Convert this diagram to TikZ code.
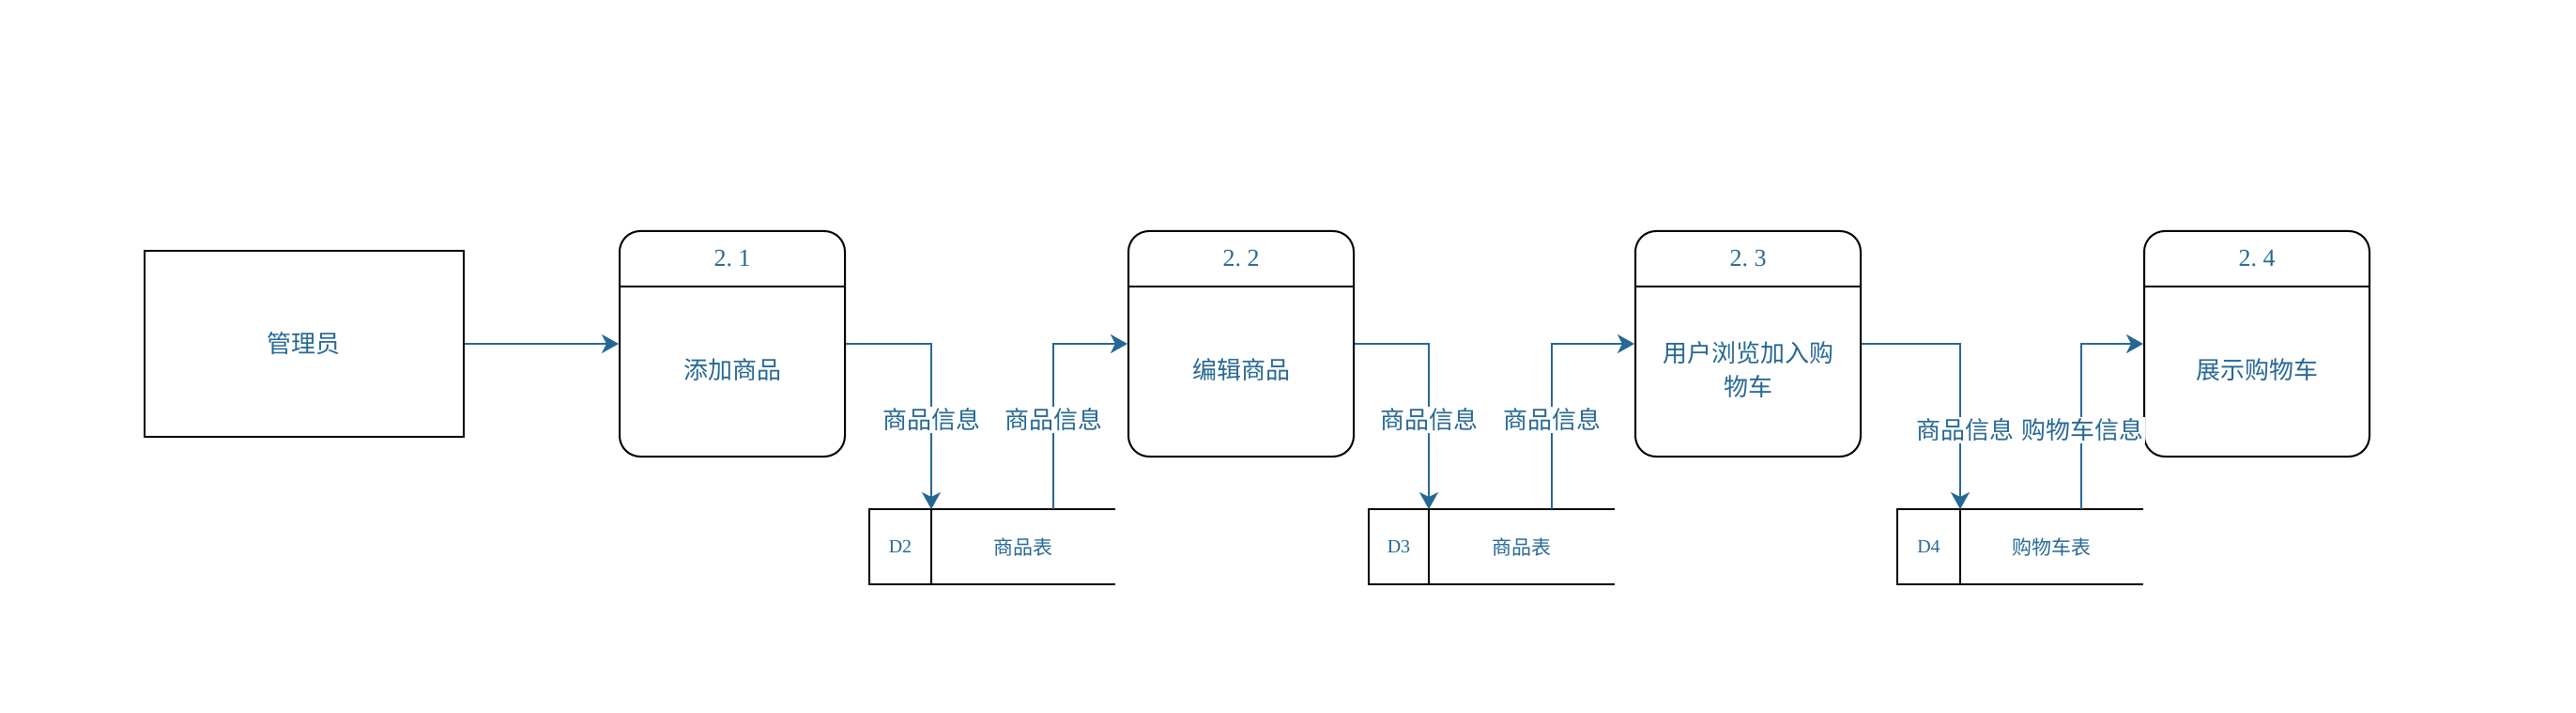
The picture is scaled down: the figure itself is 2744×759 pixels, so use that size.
\documentclass[tikz,border=0pt]{standalone}
\usepackage{fontspec}
\setmainfont{Noto Sans CJK SC}
\newfontfamily\numfont{Liberation Serif}
\usetikzlibrary{arrows.meta}
\definecolor{dfd}{RGB}{38,104,148}
\begin{document}
\begin{tikzpicture}[x=1pt,y=-1pt,
  bw/.style={draw=black,line width=2pt},
  ent/.style={bw,minimum width=340pt,minimum height=198pt,inner sep=0pt,text=dfd,font=\fontsize{26}{32}\selectfont},
  proc/.style={bw,rounded corners=22pt,minimum width=240pt,minimum height=240pt,inner sep=0pt},
  ttl/.style={text=dfd,inner sep=0pt,font=\fontsize{26}{32}\selectfont\numfont},
  body/.style={text=dfd,inner sep=0pt,align=center,font=\fontsize{26}{36}\selectfont},
  storebox/.style={minimum width=262pt,minimum height=80pt,inner sep=0pt},
  sid/.style={text=dfd,inner sep=0pt,font=\fontsize{20}{24}\selectfont\numfont},
  sname/.style={text=dfd,inner sep=0pt,font=\fontsize{21}{24}\selectfont},
  flow/.style={draw=dfd,line width=2pt,-{Stealth[length=18pt,width=20pt,inset=5pt]}},
  lbl/.style={fill=white,text=dfd,inner sep=2pt,font=\fontsize{26}{30}\selectfont}
]
\useasboundingbox (0,0) rectangle (2744,759);

% external entity
\node[ent] (e) at (323.5,366) {管理员};

% processes
\node[proc] (p1) at (780,366) {};
\draw[bw] ([yshift=-60pt]p1.north west) -- ([yshift=-60pt]p1.north east);
\node[ttl] (p1t) at (780,275) {2\makebox[0.5em][l]{.}1};
\node[body] (p1b) at (780,394) {添加商品};

\node[proc] (p2) at (1322,366) {};
\draw[bw] ([yshift=-60pt]p2.north west) -- ([yshift=-60pt]p2.north east);
\node[ttl] (p2t) at (1322,275) {2\makebox[0.5em][l]{.}2};
\node[body] (p2b) at (1322,394) {编辑商品};

\node[proc] (p3) at (1862,366) {};
\draw[bw] ([yshift=-60pt]p3.north west) -- ([yshift=-60pt]p3.north east);
\node[ttl] (p3t) at (1862,275) {2\makebox[0.5em][l]{.}3};
\node[body] (p3b) at (1862,394) {用户浏览加入购\\物车};

\node[proc] (p4) at (2404,366) {};
\draw[bw] ([yshift=-60pt]p4.north west) -- ([yshift=-60pt]p4.north east);
\node[ttl] (p4t) at (2404,275) {2\makebox[0.5em][l]{.}4};
\node[body] (p4b) at (2404,394) {展示购物车};

% data stores
\node[storebox] (s1) at (1057,582) {};
\draw[bw] (s1.north east) -- (s1.north west) -- (s1.south west) -- (s1.south east);
\draw[bw] (992,542) -- (992,622);
\node[sid] (s1id) at (959,582) {D2};
\node[sname] (s1n) at (1090,582) {商品表};

\node[storebox] (s2) at (1589,582) {};
\draw[bw] (s2.north east) -- (s2.north west) -- (s2.south west) -- (s2.south east);
\draw[bw] (1522,542) -- (1522,622);
\node[sid] (s2id) at (1490,582) {D3};
\node[sname] (s2n) at (1621,582) {商品表};

\node[storebox] (s3) at (2152,582) {};
\draw[bw] (s3.north east) -- (s3.north west) -- (s3.south west) -- (s3.south east);
\draw[bw] (2088,542) -- (2088,622);
\node[sid] (s3id) at (2054.5,582) {D4};
\node[sname] (s3n) at (2185.5,582) {购物车表};

% connector end points on stores
\coordinate (s1in) at (992,542);
\coordinate (s1out) at (1122,542);
\coordinate (s2in) at (1522,542);
\coordinate (s2out) at (1653,542);
\coordinate (s3in) at (2088,542);
\coordinate (s3out) at (2217,542);

% flows
\draw[flow] (e.east) -- (p1.west);
\draw[flow] (p1.east) -| (s1in);
\draw[flow] (s1out) |- (p2.west);
\draw[flow] (p2.east) -| (s2in);
\draw[flow] (s2out) |- (p3.west);
\draw[flow] (p3.east) -| (s3in);
\draw[flow] (s3out) |- (p4.west);

% flow labels
\node[lbl] (l1) at (992,447) {商品信息};
\node[lbl] (l2) at (1122,447) {商品信息};
\node[lbl] (l3) at (1522,447) {商品信息};
\node[lbl] (l4) at (1653,447) {商品信息};
\node[lbl] (l5) at (2093,458) {商品信息};
\node[lbl] (l6) at (2218,458) {购物车信息};
\end{tikzpicture}
\end{document}
